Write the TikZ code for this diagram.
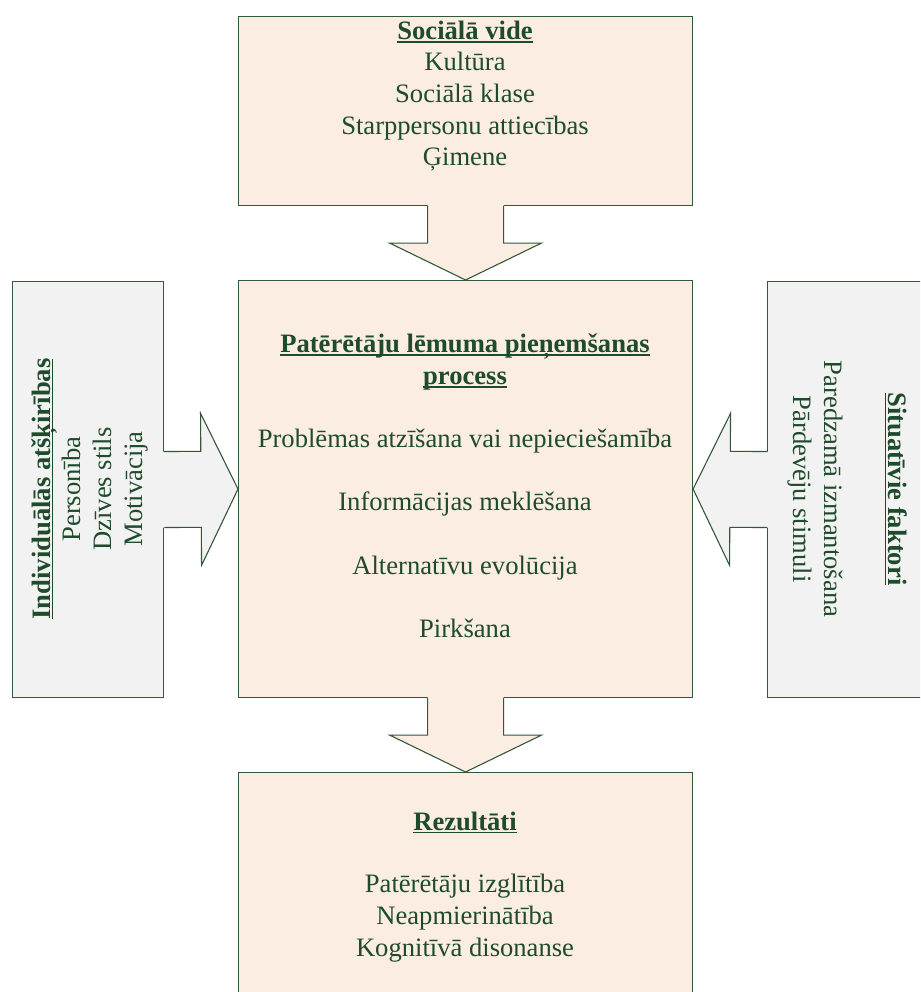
\documentclass[tikz,border=0pt]{standalone}
\usepackage{fontspec}
\setmainfont{Liberation Serif}
\usetikzlibrary{calc}

\definecolor{ink}{HTML}{1E4B2A}
\definecolor{edgegreen}{HTML}{34573A}
\definecolor{peach}{HTML}{FCEDE2}
\definecolor{pale}{HTML}{F2F2F2}

% bold heading with a rule under it
\newsavebox{\ttlbox}
\newcommand{\ttl}[1]{\sbox{\ttlbox}{\textbf{#1}}%
  \rlap{\rule[-3.2pt]{\wd\ttlbox}{1.6pt}}\usebox{\ttlbox}}

% block arrow from anchor #1 to anchor #2, filled with colour #3
\newcommand{\blockarrow}[3]{%
  \path (#1) coordinate (ba-s) (#2) coordinate (ba-e);
  \path ($(ba-s)!0.5!(ba-e)$) coordinate (ba-m);
  \path ($(ba-s)!-2pt!(ba-e)$) coordinate (ba-s0);
  \fill[#3] ($(ba-s0)!38pt!90:(ba-e)$) -- ($(ba-m)!38pt!90:(ba-e)$)
    -- ($(ba-m)!76pt!90:(ba-e)$) -- (ba-e) -- ($(ba-m)!76pt!-90:(ba-e)$)
    -- ($(ba-m)!38pt!-90:(ba-e)$) -- ($(ba-s0)!38pt!-90:(ba-e)$) -- cycle;
  \draw[outline, line join=miter] ($(ba-s)!38pt!90:(ba-e)$) -- ($(ba-m)!38pt!90:(ba-e)$)
    -- ($(ba-m)!76pt!90:(ba-e)$) -- (ba-e) -- ($(ba-m)!76pt!-90:(ba-e)$)
    -- ($(ba-m)!38pt!-90:(ba-e)$) -- ($(ba-s)!38pt!-90:(ba-e)$);
}

\tikzset{
  outline/.style={draw=edgegreen, line width=1.1pt},
  panel/.style={outline, fill=#1, inner sep=0pt, anchor=north west},
  txt/.style={font=\fontsize{26.6}{31.6}\selectfont, text=ink, inner sep=0pt, anchor=base},
}

\begin{document}
\begin{tikzpicture}[x=1pt, y=-1pt]
\useasboundingbox (0,0) rectangle (920,992);
\clip (0,0) rectangle (920,992);

% panels
\node[panel=peach, minimum width=454pt, minimum height=189pt] (social) at (238,16) {};
\node[panel=peach, minimum width=454pt, minimum height=417pt] (process) at (238,280) {};
\node[panel=peach, minimum width=454pt, minimum height=240pt] (result) at (238,772) {};
\node[panel=pale, minimum width=151pt, minimum height=416pt] (indiv) at (12,281) {};
\node[panel=pale, minimum width=193pt, minimum height=416pt] (situ) at (767,281) {};

% block arrows between panels
\blockarrow{social.south}{process.north}{peach}
\blockarrow{process.south}{result.north}{peach}
\blockarrow{indiv.east}{process.west}{pale}
\blockarrow{situ.west}{process.east}{pale}

% social environment
\node[txt] (social-t) at (465,39.5) {\ttl{Sociālā vide}};
\node[txt] (social-1) at (465,71) {Kultūra};
\node[txt] (social-2) at (465,102.7) {Sociālā klase};
\node[txt] (social-3) at (465,134.3) {Starppersonu attiecības};
\node[txt] (social-4) at (465,165.8) {Ģimene};

% decision process
\node[txt] (process-t1) at (465,352.7) {\ttl{Patērētāju lēmuma pieņemšanas}};
\node[txt] (process-t2) at (465,384.3) {\ttl{process}};
\node[txt] (process-1) at (465,447.5) {Problēmas atzīšana vai nepieciešamība};
\node[txt] (process-2) at (465,510.7) {Informācijas meklēšana};
\node[txt] (process-3) at (465,574) {Alternatīvu evolūcija};
\node[txt] (process-4) at (465,637.2) {Pirkšana};

% outcomes
\node[txt] (result-t) at (465,830) {\ttl{Rezultāti}};
\node[txt] (result-1) at (465,892) {Patērētāju izglītība};
\node[txt] (result-2) at (465,924) {Neapmierinātība};
\node[txt] (result-3) at (465,956) {Kognitīvā disonanse};

% individual differences
\node[txt, rotate=90] (indiv-t) at (50,489) {\ttl{Individuālās atšķirības}};
\node[txt, rotate=90] (indiv-1) at (80,489) {Personība};
\node[txt, rotate=90] (indiv-2) at (111,489) {Dzīves stils};
\node[txt, rotate=90] (indiv-3) at (142,489) {Motivācija};

% situational factors
\node[txt, rotate=-90] (situ-t) at (888,489) {\ttl{Situatīvie faktori}};
\node[txt, rotate=-90] (situ-1) at (824,489) {Paredzamā izmantošana};
\node[txt, rotate=-90] (situ-2) at (793,489) {Pārdevēju stimuli};
\end{tikzpicture}
\end{document}
